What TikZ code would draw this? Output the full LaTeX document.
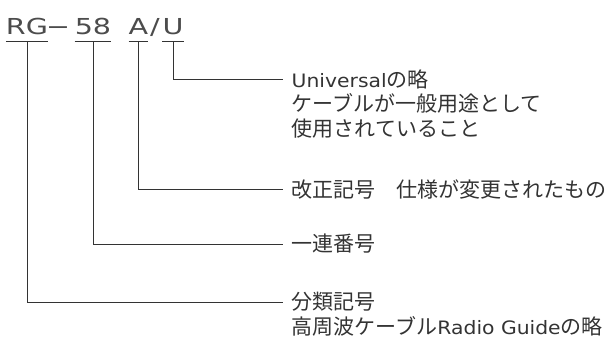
\documentclass[tikz,border=0pt]{standalone}
\usepackage{fontspec}
\setmainfont{Noto Sans CJK JP}
\newfontfamily\latfont[FakeStretch=1.1,Scale=0.88]{DejaVu Sans}
\newfontfamily\codefont[FakeStretch=1.3]{DejaVu Sans}
\usetikzlibrary{calc}

\begin{document}
\begin{tikzpicture}[x=1pt,y=-1pt,
  code/.style={anchor=base,inner sep=0pt,black!70,font={\fontsize{22}{26}\selectfont\codefont}},
  note/.style={anchor=west,inner xsep=8.5pt,inner ysep=0pt,black!80,font={\fontsize{21}{24.5}\selectfont}},
  lead/.style={line width=0.75pt,black!80}]
\useasboundingbox (0,0) rectangle (614,338);
\node[code] (rg) at (27,34.3) {RG};
\node[code] (dash) at (58,34.3) {−};
\node[code] (num) at (93,34.3) {58};
\node[code] (rev) at (138.5,34.3) {A};
\node[code] (slash) at (155,34.3) {/};
\node[code] (uni) at (173,34.3) {U};
\foreach \n in {rg,num,rev,uni}{
  \draw[lead] ([yshift=-6.7pt]\n.base west) -- ([yshift=-6.7pt]\n.base east);
  \coordinate (\n-u) at ([yshift=-6.7pt]\n.base);
}
\node[note] (uni1) at (283,79) {{\latfont Universal}の略};
\node[note,anchor=base west] (uni2) at ([yshift=-24.5pt]uni1.base west) {ケーブルが一般用途として};
\node[note,anchor=base west] (uni3) at ([yshift=-24.5pt]uni2.base west) {使用されていること};
\node[note] (rev1) at (283,189) {改正記号　仕様が変更されたもの};
\node[note] (ser1) at (283,244) {一連番号};
\node[note] (cls1) at (283,302) {分類記号};
\node[note,anchor=base west] (cls2) at ([yshift=-24.5pt]cls1.base west) {高周波ケーブル{\latfont Radio Guide}の略};
\draw[lead] (uni-u) |- (uni1.west);
\draw[lead] (rev-u) |- (rev1.west);
\draw[lead] (num-u) |- (ser1.west);
\draw[lead] (rg-u) |- (cls1.west);
\end{tikzpicture}
\end{document}
